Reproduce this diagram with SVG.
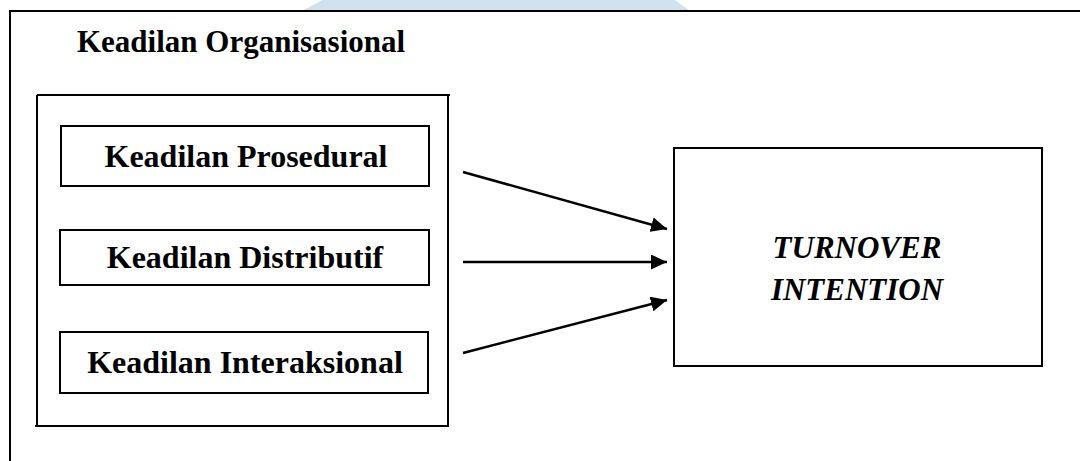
<svg xmlns="http://www.w3.org/2000/svg" width="1080" height="461" viewBox="0 0 1080 461">
  <style>
    .frame { fill: none; stroke: #000; stroke-width: 2; }
    .box { fill: #fff; stroke: #000; stroke-width: 2; }
    .lbl { font-family: "Liberation Serif", "Times New Roman", serif; font-weight: bold; font-size: 31px; fill: #000; }
    .big { font-size: 32px; }
    .conn { stroke: #000; stroke-width: 2.5; fill: none; }
  </style>
  <defs>
    <marker id="arrow" markerUnits="userSpaceOnUse" markerWidth="16" markerHeight="15" refX="16" refY="7.5" orient="auto">
      <path d="M0,0 L16,7.5 L0,15 Z" fill="#000"/>
    </marker>
  </defs>
  <rect width="1080" height="461" fill="#fff"/>
  <polygon points="302,11 322,0 675,0 690,11" fill="#cfe2ef"/>
  <g id="outer-frame">
    <path class="frame" d="M10,461 L10,11 L1080,11"/>
    <text class="lbl" x="77" y="52">Keadilan Organisasional</text>
  </g>
  <g id="group-box">
    <path class="frame" d="M37,95 L450,95 M37,95 L37,425 M448,95 L448,426 M35,426 L449,426"/>
  </g>
  <g id="node-prosedural">
    <rect class="box" x="61" y="126" width="368" height="60"/>
    <text class="lbl big" x="246" y="167" text-anchor="middle">Keadilan Prosedural</text>
  </g>
  <g id="node-distributif">
    <rect class="box" x="60" y="230" width="369" height="55"/>
    <text class="lbl big" x="245" y="268" text-anchor="middle">Keadilan Distributif</text>
  </g>
  <g id="node-interaksional">
    <rect class="box" x="60" y="332" width="368" height="61"/>
    <text class="lbl big" x="245" y="373" text-anchor="middle">Keadilan Interaksional</text>
  </g>
  <g id="node-turnover">
    <rect class="box" x="674" y="148" width="368" height="218"/>
    <text class="lbl" font-style="italic" x="857" y="258" text-anchor="middle">TURNOVER</text>
    <text class="lbl" font-style="italic" x="857" y="300" text-anchor="middle">INTENTION</text>
  </g>
  <g id="connectors">
    <line class="conn" x1="463" y1="172" x2="667" y2="229" marker-end="url(#arrow)"/>
    <line class="conn" x1="463" y1="262" x2="667" y2="262" marker-end="url(#arrow)"/>
    <line class="conn" x1="463" y1="353" x2="667" y2="300" marker-end="url(#arrow)"/>
  </g>
</svg>
